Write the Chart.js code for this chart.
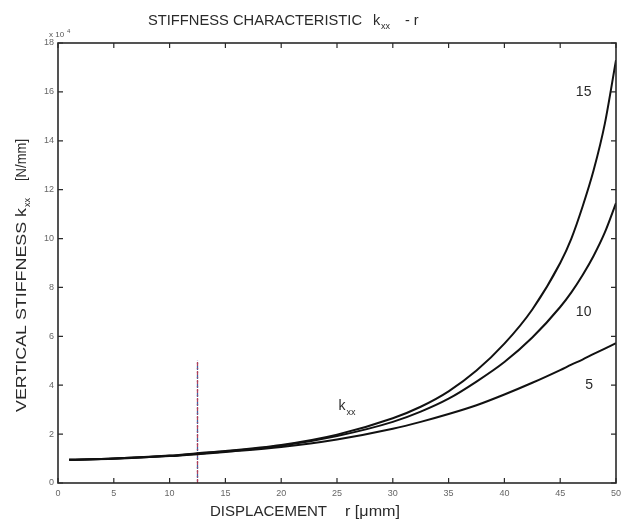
<!DOCTYPE html>
<html>
<head>
<meta charset="utf-8">
<script src="https://cdn.jsdelivr.net/npm/chart.js@4/dist/chart.umd.min.js"></script>
<style>
  html, body { margin: 0; padding: 0; background: #fff; }
  #wrap { width: 621px; height: 522px; }
</style>
</head>
<body>
<div id="wrap"><canvas id="c" width="621" height="522"></canvas></div>
<script>
// Displacement r [µm] and vertical stiffness k_xx [x 10^4 N/mm]
const displacement = [1, 5, 10, 12.5, 15, 20, 25, 30, 32.5, 35, 37.5, 40, 42.5, 45, 46, 47, 48, 49, 50];
const stiffness15 = [0.95, 1.00, 1.12, 1.22, 1.31, 1.56, 1.98, 2.65, 3.12, 3.75, 4.60, 5.70, 7.10, 9.00, 10.00, 11.30, 12.80, 14.70, 17.30];
const stiffness10 = [0.95, 1.00, 1.11, 1.20, 1.29, 1.52, 1.92, 2.50, 2.92, 3.45, 4.15, 4.95, 5.95, 7.20, 7.80, 8.50, 9.30, 10.25, 11.45];
const stiffness5  = [0.95, 0.99, 1.10, 1.18, 1.27, 1.47, 1.78, 2.22, 2.50, 2.82, 3.18, 3.62, 4.10, 4.62, 4.84, 5.05, 5.28, 5.50, 5.72];

// Operating-point marker line
const markerX = [12.5, 12.5];
const markerY = [0, 5];

// Axis ticks
const xTicks = [0, 5, 10, 15, 20, 25, 30, 35, 40, 45, 50];
const yTicks = [0, 2, 4, 6, 8, 10, 12, 14, 16, 18];
const xTickLabels = ['0', '5', '10', '15', '20', '25', '30', '35', '40', '45', '50'];
const yTickLabels = ['0', '2', '4', '6', '8', '10', '12', '14', '16', '18'];

// Curve labels (text, x, y in data units)
const curveLabels = [
  { text: '15', x: 47.1, y: 16.0 },
  { text: '10', x: 47.1, y: 7.0 },
  { text: '5',  x: 47.6, y: 4.0 }
];

const FONT = '"Liberation Sans", Arial, Helvetica, sans-serif';
const INK = '#2a2a2a';

const toPoints = (xs, ys) => xs.map((x, i) => ({ x: x, y: ys[i] }));

function curve(values) {
  return {
    data: toPoints(displacement, values),
    borderColor: '#111',
    borderWidth: 2,
    pointRadius: 0,
    fill: false,
    cubicInterpolationMode: 'monotone'
  };
}

// draws text stretched horizontally to span a given width
function fillFitted(ctx, text, x, y, width) {
  const w = ctx.measureText(text).width;
  ctx.save();
  ctx.translate(x, y);
  ctx.scale(width / w, 1);
  ctx.textAlign = 'left';
  ctx.fillText(text, 0, 0);
  ctx.restore();
}

const framePlugin = {
  id: 'frame',
  afterDatasetsDraw(chart) {
    const ctx = chart.ctx;
    const a = chart.chartArea;
    const xs = chart.scales.x, ys = chart.scales.y;
    ctx.save();

    // box
    ctx.strokeStyle = INK;
    ctx.lineWidth = 1.6;
    ctx.strokeRect(a.left, a.top, a.right - a.left, a.bottom - a.top);

    // inward ticks on all four sides
    ctx.lineWidth = 1.2;
    const tl = 5;
    ctx.beginPath();
    xTicks.forEach(v => {
      const px = xs.getPixelForValue(v);
      ctx.moveTo(px, a.bottom); ctx.lineTo(px, a.bottom - tl);
      ctx.moveTo(px, a.top); ctx.lineTo(px, a.top + tl);
    });
    yTicks.forEach(v => {
      const py = ys.getPixelForValue(v);
      ctx.moveTo(a.left, py); ctx.lineTo(a.left + tl, py);
      ctx.moveTo(a.right, py); ctx.lineTo(a.right - tl, py);
    });
    ctx.stroke();

    ctx.textBaseline = 'alphabetic';

    // exponent note
    ctx.fillStyle = '#555';
    ctx.font = '8px ' + FONT;
    ctx.textAlign = 'left';
    ctx.fillText('x 10', 49, 37);
    ctx.font = '6px ' + FONT;
    ctx.fillText('4', 67, 33);

    // title
    ctx.fillStyle = INK;
    ctx.font = '14.5px ' + FONT;
    ctx.textAlign = 'left';
    fillFitted(ctx, 'STIFFNESS CHARACTERISTIC', 148, 25, 214);
    ctx.fillText('k', 373, 25);
    ctx.fillText('- r', 405, 25);
    ctx.font = '9px ' + FONT;
    ctx.fillText('xx', 381, 29);

    // x-axis title
    ctx.font = '14.5px ' + FONT;
    fillFitted(ctx, 'DISPLACEMENT', 210, 516, 117);
    fillFitted(ctx, 'r [\u03bcmm]', 345, 516, 55);

    // y-axis title (rotated)
    ctx.save();
    ctx.translate(26, 0);
    ctx.rotate(-Math.PI / 2);
    ctx.font = '14.5px ' + FONT;
    fillFitted(ctx, 'VERTICAL STIFFNESS k', -412, 0, 204);
    fillFitted(ctx, '[N/mm]', -181, 0, 42);
    ctx.font = '9px ' + FONT;
    ctx.textAlign = 'left';
    ctx.fillText('xx', -207, 4);
    ctx.restore();

    // curve labels
    ctx.font = '14px ' + FONT;
    ctx.textAlign = 'center';
    ctx.textBaseline = 'middle';
    curveLabels.forEach(l => {
      ctx.fillText(l.text, xs.getPixelForValue(l.x), ys.getPixelForValue(l.y));
    });

    // k_xx annotation
    const kx = xs.getPixelForValue(25.5), ky = ys.getPixelForValue(3.15);
    ctx.textAlign = 'left';
    ctx.font = '14px ' + FONT;
    ctx.fillText('k', kx - 4, ky);
    ctx.font = '9px ' + FONT;
    ctx.fillText('xx', kx + 4, ky + 7);

    ctx.restore();
  }
};

new Chart(document.getElementById('c'), {
  type: 'line',
  data: {
    datasets: [
      curve(stiffness15),
      curve(stiffness10),
      curve(stiffness5),
      {
        data: toPoints(markerX, markerY),
        borderColor: '#b0405a',
        borderWidth: 1.3,
        borderDash: [4, 2, 1, 2],
        pointRadius: 0,
        fill: false
      },
      {
        data: toPoints(markerX, markerY),
        borderColor: '#4060a0',
        borderWidth: 1.3,
        borderDash: [4, 2, 1, 2],
        borderDashOffset: 4,
        pointRadius: 0,
        fill: false
      }
    ]
  },
  options: {
    responsive: false,
    animation: false,
    layout: { padding: { top: 43, right: 5, left: 0, bottom: 0 } },
    plugins: { legend: { display: false }, tooltip: { enabled: false } },
    scales: {
      x: {
        type: 'linear', min: 0, max: 50,
        afterBuildTicks(s) { s.ticks = xTicks.map(v => ({ value: v })); },
        ticks: {
          callback: (v) => xTickLabels[xTicks.indexOf(v)],
          color: '#666', font: { size: 9, family: FONT }, padding: 5,
          maxRotation: 0, autoSkip: false
        },
        grid: { display: false, drawTicks: false },
        border: { display: false },
        afterFit(s) { s.height = 39; s.paddingLeft = 0; s.paddingRight = 0; }
      },
      y: {
        type: 'linear', min: 0, max: 18,
        afterBuildTicks(s) { s.ticks = yTicks.map(v => ({ value: v })); },
        ticks: {
          callback: (v) => yTickLabels[yTicks.indexOf(v)],
          color: '#666', font: { size: 9, family: FONT }, padding: 4,
          autoSkip: false
        },
        grid: { display: false, drawTicks: false },
        border: { display: false },
        afterFit(s) { s.width = 58; s.paddingTop = 0; s.paddingBottom = 0; }
      }
    }
  },
  plugins: [framePlugin]
});
</script>
</body>
</html>
